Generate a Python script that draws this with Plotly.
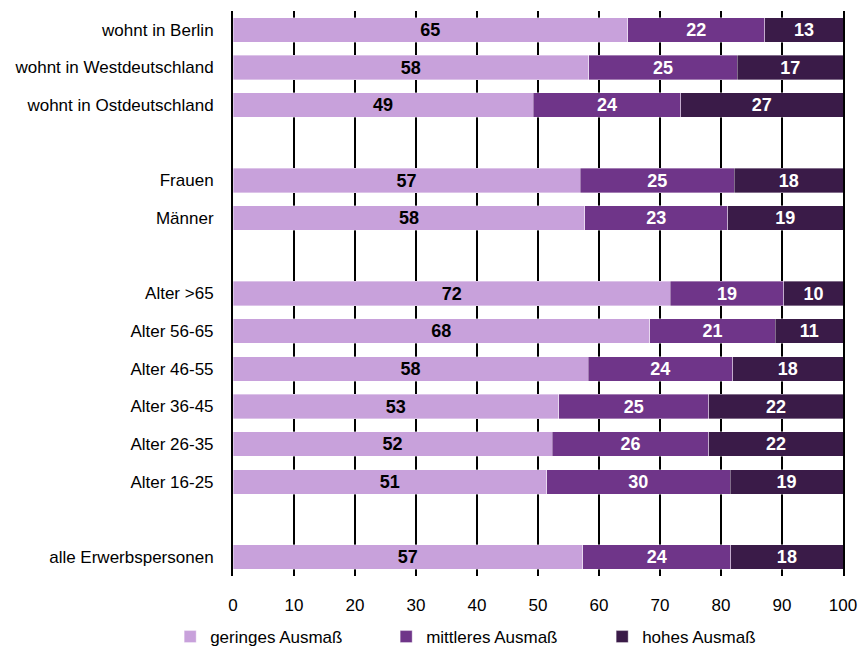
import plotly.graph_objects as go

# Row labels (None = empty spacer row)
categories = [
    "wohnt in Berlin", "wohnt in Westdeutschland", "wohnt in Ostdeutschland", None,
    "Frauen", "Männer", None,
    "Alter >65", "Alter 56-65", "Alter 46-55", "Alter 36-45", "Alter 26-35", "Alter 16-25", None,
    "alle Erwerbspersonen",
]

# Segment values (percent)
gering = [64.7, 58.3, 49.2, None, 56.9, 57.7, None, 71.7, 68.3, 58.2, 53.4, 52.3, 51.4, None, 57.3]
mittel = [22.5, 24.4, 24.2, None, 25.3, 23.4, None, 18.6, 20.6, 23.7, 24.6, 25.7, 30.1, None, 24.3]
hoch   = [12.8, 17.3, 26.6, None, 17.8, 18.9, None, 9.7, 11.1, 18.1, 22.0, 22.0, 18.5, None, 18.4]

# Printed labels
gering_lbl = [65, 58, 49, None, 57, 58, None, 72, 68, 58, 53, 52, 51, None, 57]
mittel_lbl = [22, 25, 24, None, 25, 23, None, 19, 21, 24, 25, 26, 30, None, 24]
hoch_lbl   = [13, 17, 27, None, 18, 19, None, 10, 11, 18, 22, 22, 19, None, 18]

series_names = ["geringes Ausmaß", "mittleres Ausmaß", "hohes Ausmaß"]
colors = ["#C8A1DB", "#6F3589", "#3A1B48"]
text_colors = ["black", "white", "white"]

x_ticks = [0, 10, 20, 30, 40, 50, 60, 70, 80, 90, 100]

FONT = "Liberation Sans, Arial, sans-serif"
FS = 17

ypos = list(range(len(categories)))
ticktext = [c if c is not None else "" for c in categories]

fig = go.Figure()
for name, vals, lbls, col, tcol in zip(series_names, [gering, mittel, hoch],
                                       [gering_lbl, mittel_lbl, hoch_lbl], colors, text_colors):
    fig.add_trace(go.Bar(
        y=ypos, x=vals, orientation="h", name=name,
        marker=dict(color=col, line=dict(width=0.6, color="rgba(255,255,255,0.6)")),
        text=[str(v) if v is not None else "" for v in lbls],
        textposition="inside", insidetextanchor="middle",
        constraintext="none",
        textfont=dict(family=FONT, size=18, color=tcol, weight="bold"),
        textangle=0,
        width=0.65,
        hoverinfo="skip",
    ))

fig.update_layout(
    barmode="stack",
    width=858, height=652,
    margin=dict(l=233, r=15, t=11, b=76, autoexpand=False),
    paper_bgcolor="white", plot_bgcolor="white",
    font=dict(family=FONT, size=FS, color="black"),
    showlegend=True,
    legend=dict(
        orientation="h", x=-0.103, xanchor="left", y=-0.108, yanchor="middle",
        traceorder="normal",
        font=dict(family=FONT, size=FS, color="black"),
        entrywidth=171, entrywidthmode="pixels",
        itemwidth=30, tracegroupgap=0,
    ),
    xaxis=dict(
        range=[0, 100], tickvals=x_ticks, ticktext=[str(t) for t in x_ticks],
        showgrid=True, gridcolor="black", gridwidth=2,
        zeroline=False,
        showline=False, ticks="", ticklabelstandoff=17,
        tickfont=dict(family=FONT, size=FS, color="black"),
        automargin=False,
        fixedrange=True,
    ),
    yaxis=dict(
        tickvals=ypos, ticktext=ticktext, range=[len(categories) - 0.5, -0.5],
        showgrid=False, zeroline=False,
        showline=True, linecolor="black", linewidth=2, mirror=True,
        ticks="",
        ticklabelstandoff=14,
        tickfont=dict(family=FONT, size=FS, color="black"),
        automargin=False,
        fixedrange=True,
    ),
)

fig.write_html(
    "out.html",
    config={"displayModeBar": False},
    post_script="document.body.style.margin='0';document.body.style.overflow='hidden';",
)
